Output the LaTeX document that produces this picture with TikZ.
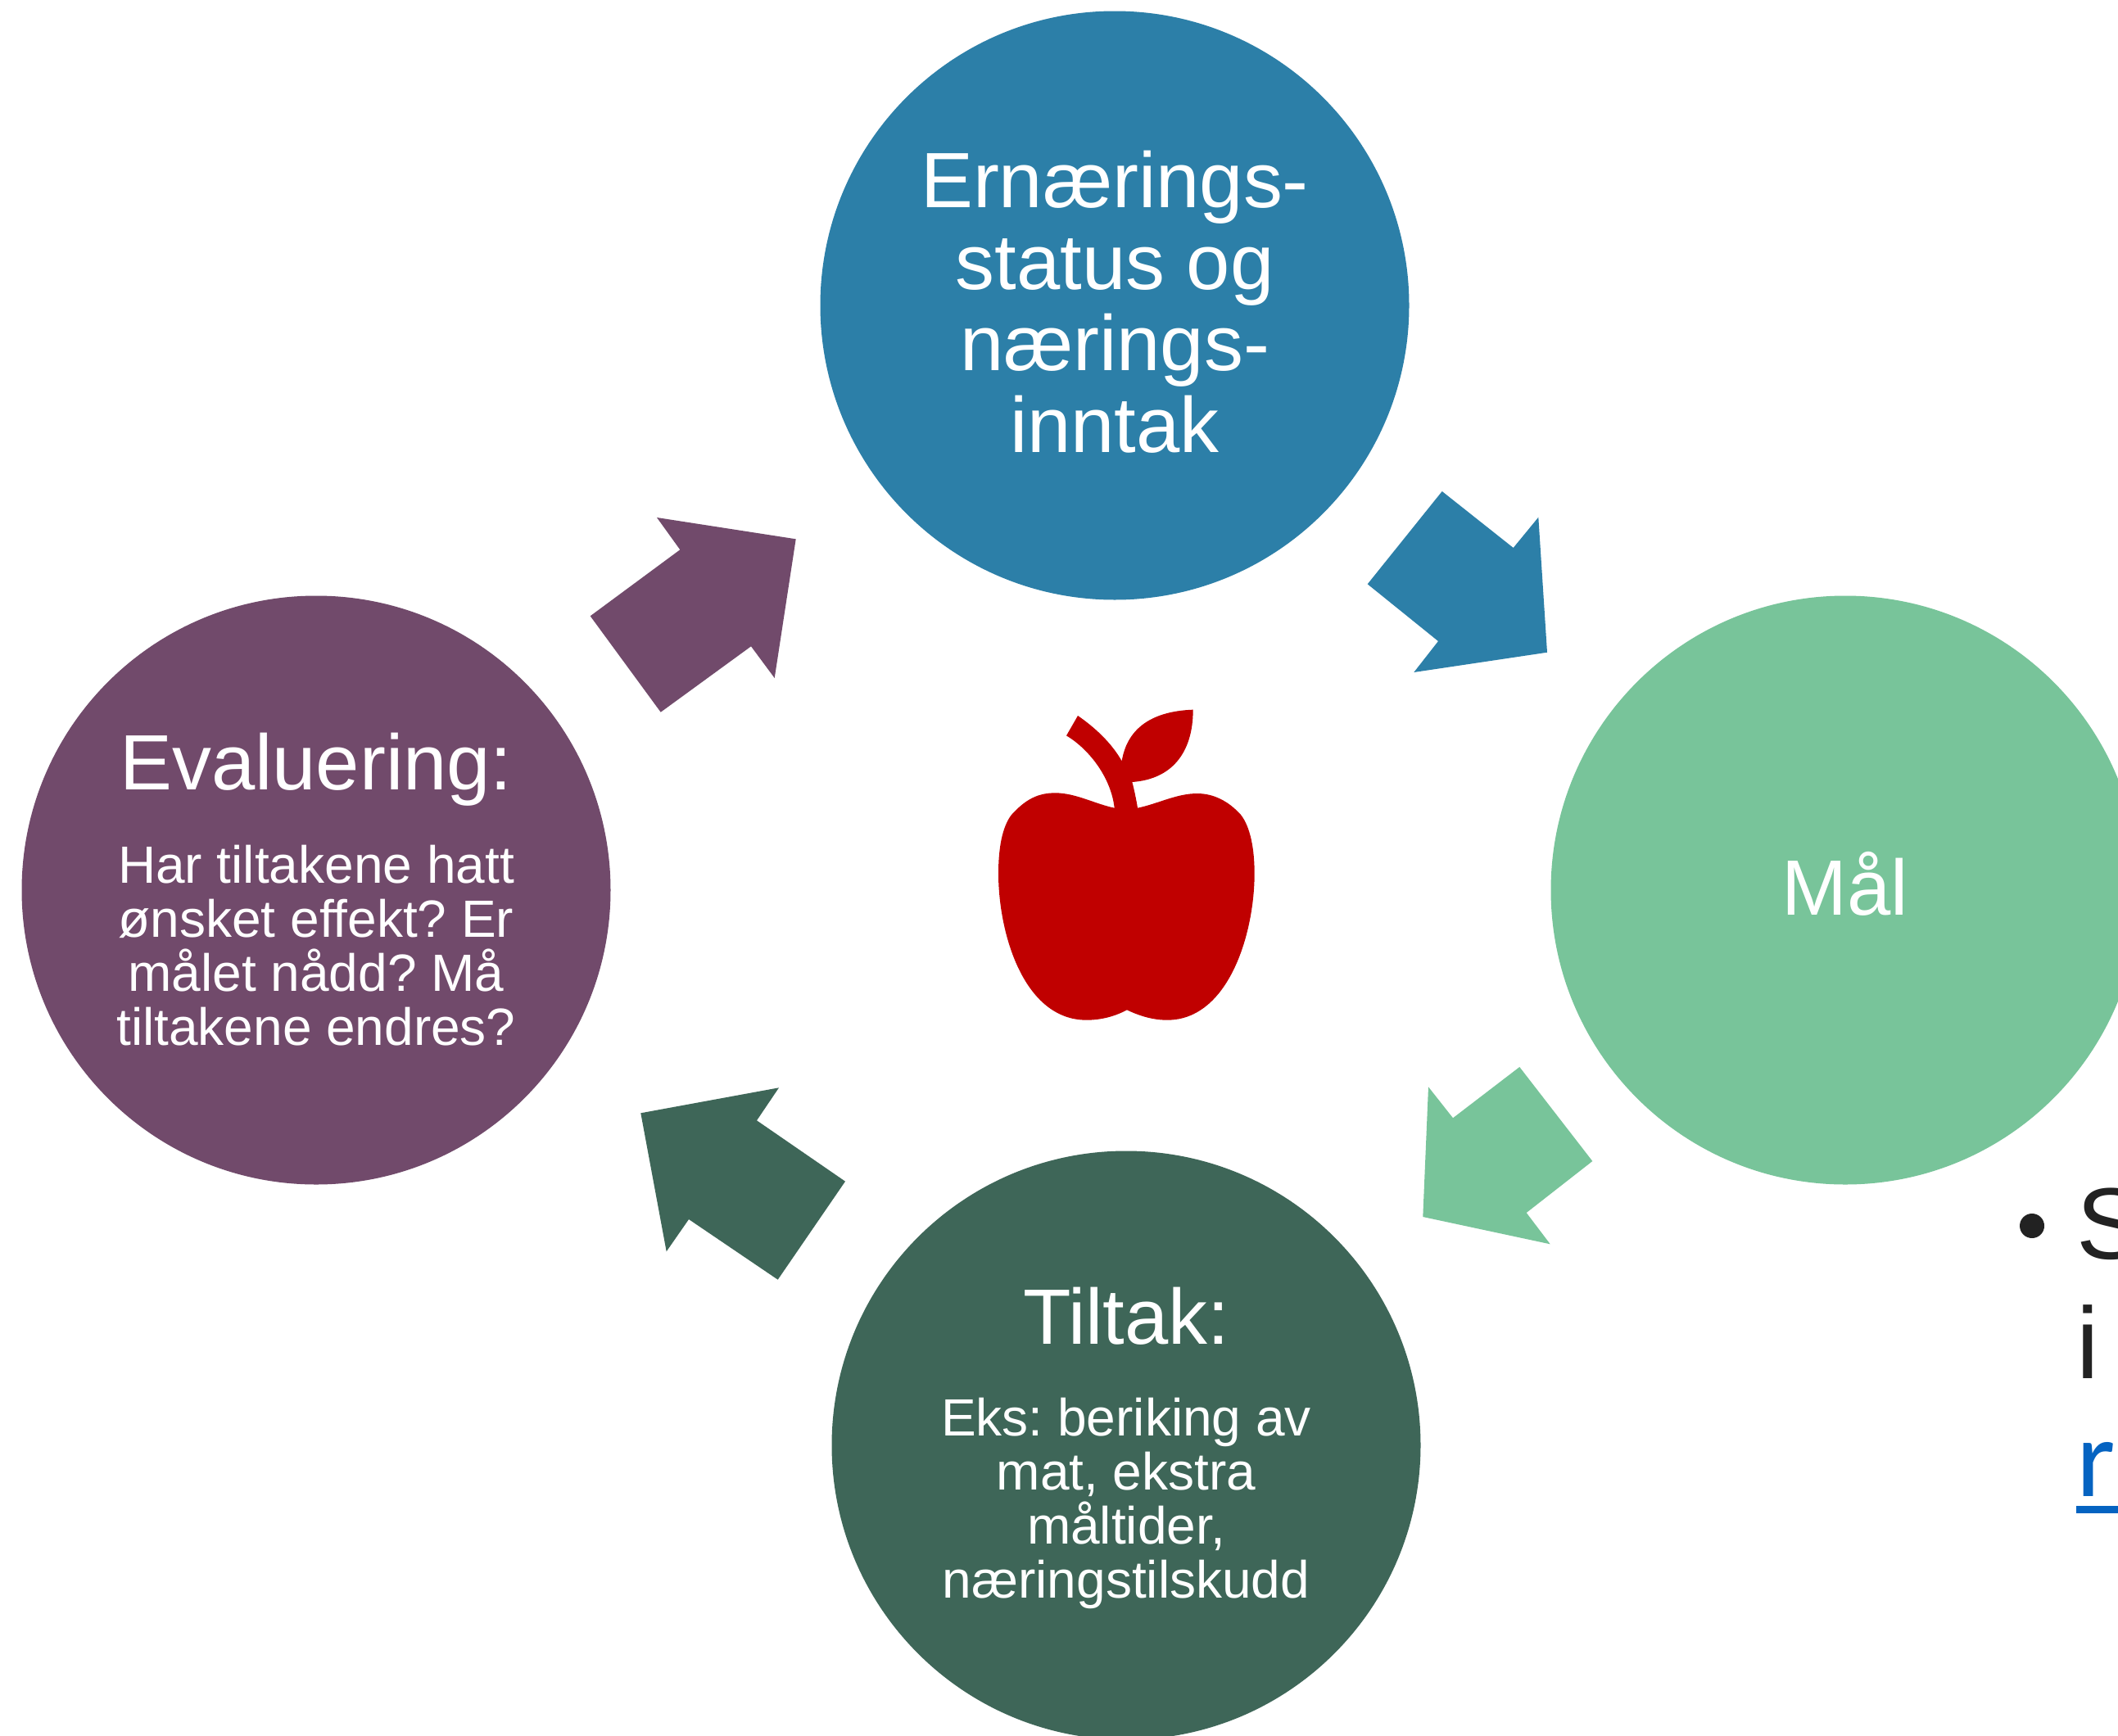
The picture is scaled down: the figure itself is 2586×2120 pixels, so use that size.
\documentclass[tikz,border=0pt]{standalone}
\usepackage{fontspec}
\setmainfont{Liberation Sans}
\newfontfamily\linkfont{Carlito}
\frenchspacing
\definecolor{cblue}{HTML}{2C7FA8}
\definecolor{cgreen}{HTML}{78C49A}
\definecolor{cdark}{HTML}{3E6658}
\definecolor{cpurple}{HTML}{714A6B}
\definecolor{capple}{HTML}{C00000}
\definecolor{cink}{HTML}{222222}
\definecolor{clink}{HTML}{0563C1}
\newcommand{\headf}{\fontsize{47.9}{49.8}\selectfont}
\newcommand{\bodyf}{\fontsize{32}{33}\selectfont}
\tikzset{
  stage/.style={circle,minimum size=359.5pt,inner sep=0pt},
  stagehead/.style={inner sep=0pt,text=white,align=center,font=\headf},
  stagemix/.style={inner sep=0pt,text=white,align=center,font=\bodyf},
  blockarrow/.style={line width=0pt},
  slidetext/.style={anchor=base west,inner sep=0pt,text=cink,font=\fontsize{62}{66}\selectfont},
}
\begin{document}
\begin{tikzpicture}[x=0.5pt,y=-0.5pt]
\useasboundingbox (0,0) rectangle (2586,2120);
\clip (0,0) rectangle (2586,2120);
\fill[white] (0,0) rectangle (2586,2120);
% slide text behind
\fill[cink] (2481,1497) circle (15);
\node[slidetext] (s) at (2535,1537) {S};
\node[slidetext] (i) at (2535,1683) {i};
\node[slidetext,text=clink,font=\linkfont\fontsize{68}{72}\selectfont] (r) at (2535,1827) {re};
\fill[clink] (2535,1839) rectangle (2586,1848);
% stages
\node[stage,fill=cblue] (top) at (1361,373) {};
\node[stage,fill=cgreen] (right) at (2253,1087) {};
\node[stage,fill=cdark] (bottom) at (1375,1765) {};
\node[stage,fill=cpurple] (left) at (386,1087) {};
\node[stagehead] (toptext) at ([yshift=2.2pt]top.center) {Ernærings-\\status og\\nærings-\\inntak};
\node[stagehead] (righttext) at ([yshift=4pt]right.center) {Mål};
\node[stagemix] (bottomtext) at ([yshift=-1.8pt]bottom.center) {{\headf Tiltak:}\\[23pt]Eks: beriking av\\mat, ekstra\\måltider,\\næringstilskudd};
\node[stagemix] (lefttext) at ([yshift=0.4pt]left.center) {{\headf Evaluering:}\\[23pt]Har tiltakene hatt\\ønsket effekt? Er\\målet nådd? Må\\tiltakene endres?};
% block arrows
\fill[cblue,blockarrow] (1760.7,600)--(1847.7,669)--(1878.3,631.7)--(1889,796.7)--(1726.3,821)--(1756,783)--(1669.7,713.3)--cycle;
\fill[cgreen,blockarrow] (1855.3,1303)--(1944.3,1418)--(1863.7,1481)--(1892.7,1519.3)--(1737.3,1486)--(1744,1327.3)--(1774,1365.3)--cycle;
\fill[cdark,blockarrow] (1032,1442.7)--(949.7,1562.7)--(841,1489)--(813.7,1528.3)--(782.3,1359.3)--(951,1328.3)--(924,1368.3)--cycle;
\fill[cpurple,blockarrow] (720.7,752.3)--(806.7,869.7)--(917,789.3)--(945.7,828)--(971.7,658.3)--(802,632)--(830.3,671.3)--cycle;
% apple
\begin{scope}[shift={(1180,840)},x=0.16667pt,y=-0.16667pt]
\fill[capple] (542,440) .. controls (470,425) and (400,385) .. (325,385)
 .. controls (260,385) and (215,410) .. (165,465)
 .. controls (130,510) and (117,590) .. (117,680)
 .. controls (117,900) and (210,1217) .. (440,1217)
 .. controls (500,1217) and (550,1200) .. (588,1180)
 .. controls (630,1200) and (680,1217) .. (735,1217)
 .. controls (960,1217) and (1055,900) .. (1055,680)
 .. controls (1055,590) and (1040,510) .. (1005,465)
 .. controls (960,415) and (905,387) .. (845,387)
 .. controls (770,387) and (700,425) .. (627,440)
 .. controls (622,410) and (615,375) .. (607,345)
 .. controls (750,335) and (830,240) .. (830,80)
 .. controls (690,85) and (590,140) .. (569,268)
 .. controls (530,200) and (470,145) .. (408,102)
 -- (366,175)
 .. controls (450,225) and (530,330) .. (542,440) -- cycle;
\end{scope}
\end{tikzpicture}
\end{document}
